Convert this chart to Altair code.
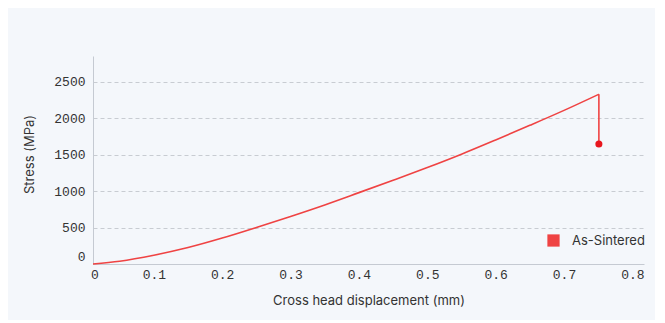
import altair as alt
import pandas as pd

# Data
displacement = [0.011, 0.05, 0.10, 0.15, 0.20, 0.25, 0.30, 0.35, 0.40, 0.45,
                0.50, 0.55, 0.60, 0.65, 0.70, 0.751, 0.751]
stress = [0, 38, 120, 225, 355, 500, 652, 810, 978, 1148,
          1322, 1505, 1700, 1900, 2105, 2326, 1644]
series = "As-Sintered"

x_ticks = [0.011, 0.1, 0.2, 0.3, 0.4, 0.5, 0.6, 0.7, 0.8]
y_ticks = [0, 500, 1000, 1500, 2000, 2500]
x_domain = [0.011, 0.817]
y_domain = [0, 2850]

df = pd.DataFrame({
    "disp": displacement,
    "stress": stress,
    "order": list(range(len(displacement))),
    "series": [series] * len(displacement),
})
curve_df = df.iloc[:-1]
drop_df = df.iloc[-2:]
end_df = df.iloc[[-1]]

MONO = "Liberation Mono"
SANS = "Inter"
RED = "#ef4343"

x_enc = alt.X(
    "disp:Q",
    scale=alt.Scale(domain=x_domain, nice=False, zero=False),
    axis=alt.Axis(
        values=x_ticks,
        labelExpr="datum.value < 0.05 ? '0' : format(datum.value, '.1f')",
        labelOffset={"condition": {"test": "datum.value < 0.05", "value": -2.5}, "value": 0},
        title="Cross head displacement (mm)",
        grid=False,
        ticks=False,
        domainColor="#c5cad2",
        labelFont=MONO, labelFontSize=13, labelColor="#333333",
        labelPadding=4,
        titleFont=SANS, titleFontSize=13, titleFontWeight="normal",
        titleColor="#333333", titlePadding=13,
    ),
)
y_enc = alt.Y(
    "stress:Q",
    scale=alt.Scale(domain=y_domain, nice=False),
    axis=alt.Axis(
        values=y_ticks,
        format="d",
        title="Stress (MPa)",
        grid=True,
        gridColor="#c8ccd2",
        gridDash=[4, 3],
        ticks=False,
        domainColor="#c5cad2",
        labelFont=MONO, labelFontSize=13, labelColor="#333333",
        labelPadding=8,
        labelOffset={"condition": {"test": "datum.value == 0", "value": -7.5}, "value": 0},
        titleFont=SANS, titleFontSize=13, titleFontWeight="normal",
        titleColor="#333333", titlePadding=17, titleY=98,
    ),
)
color_enc = alt.Color(
    "series:N",
    scale=alt.Scale(domain=[series], range=[RED]),
    legend=alt.Legend(
        title=None, orient="none", legendX=454, legendY=178,
        symbolType="square", symbolSize=150, symbolStrokeWidth=0,
        symbolFillColor=RED, labelOffset=12, padding=0,
        labelFont=SANS, labelFontSize=13, labelColor="#333333",
    ),
)

curve = alt.Chart(curve_df).mark_line(strokeWidth=1.6, interpolate="monotone").encode(
    x=x_enc, y=y_enc, color=color_enc, order="order:Q"
)
drop = alt.Chart(drop_df).mark_line(strokeWidth=1.6).encode(
    x="disp:Q", y="stress:Q", color="series:N", order="order:Q"
)
dot = alt.Chart(end_df).mark_circle(size=50, opacity=1, color="#e8161e").encode(
    x="disp:Q", y="stress:Q"
)

chart = (
    alt.layer(curve, drop, dot)
    .properties(
        width=551, height=208,
        autosize=alt.AutoSizeParams(type="none"),
        padding={"left": 85, "top": 48, "right": 11, "bottom": 56},
        background="#f4f7fb",
    )
    .configure_view(stroke=None)
)

chart.save("out.html", embed_options={"renderer": "svg", "actions": False})
